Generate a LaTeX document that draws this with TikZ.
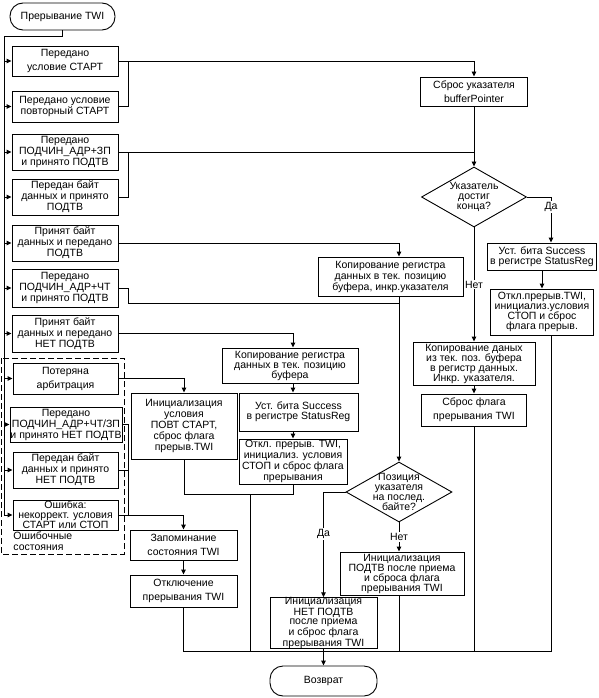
\documentclass[tikz,border=0pt]{standalone}
\usepackage{fontspec}
\setmainfont{Liberation Sans}
\usetikzlibrary{shapes.geometric,arrows.meta}
\tikzset{
  box/.style={draw,align=center,inner sep=0pt,font=\fontsize{10.5}{11}\selectfont},
  loose/.style={font=\fontsize{10.5}{14}\selectfont},
  tight/.style={font=\fontsize{10.5}{10}\selectfont},
  term/.style={box,rounded corners=13pt},
  decision/.style={draw,diamond,aspect=1.75,inner xsep=0pt,inner ysep=-6pt,align=center,font=\fontsize{10.5}{10}\selectfont},
  answer/.style={fill=white,inner sep=1pt,font=\fontsize{10.5}{11}\selectfont}
}
\begin{document}
\begin{tikzpicture}[x=1pt,y=-1pt,line width=0.9pt,>={Triangle[length=5pt,width=4.5pt]}]
  \fill[white] (0,0) rectangle (598,698);
  \useasboundingbox (0,0) rectangle (598,698);

  % entry and status codes
  \node[term,minimum width=105pt,minimum height=27pt] (start) at (62.5,16.5) {Прерывание TWI};
  \node[box,loose,minimum width=106pt,minimum height=30pt] (st) at (65,61) {Передано\\условие СТАРТ};
  \node[box,minimum width=106pt,minimum height=31pt] (rst) at (65,106.5) {Передано условие\\повторный СТАРТ};
  \node[box,minimum width=106pt,minimum height=36pt] (slaw) at (65,152) {Передано\\ПОДЧИН\_АДР+ЗП\\и принято ПОДТВ};
  \node[box,minimum width=106pt,minimum height=36pt] (txack) at (65,197) {Передан байт\\данных и принято\\ПОДТВ};
  \node[box,minimum width=106pt,minimum height=36pt] (rxack) at (65,243) {Принят байт\\данных и передано\\ПОДТВ};
  \node[box,minimum width=106pt,minimum height=38pt] (slar) at (65,288) {Передано\\ПОДЧИН\_АДР+ЧТ\\и принято ПОДТВ};
  \node[box,minimum width=106pt,minimum height=37pt] (rxnack) at (65,333.5) {Принят байт\\данных и передано\\НЕТ ПОДТВ};

  % error group
  \draw[dash pattern=on 6pt off 3pt] (1,358) rectangle (124,554);
  \node[box,loose,minimum width=105pt,minimum height=31pt] (arb) at (65.5,378.5) {Потеряна\\арбитрация};
  \node[box,minimum width=112pt,minimum height=35pt] (slanack) at (66,424.5) {Передано\\ПОДЧИН\_АДР+ЧТ/ЗП\\и принято НЕТ ПОДТВ};
  \node[box,minimum width=105pt,minimum height=36pt] (txnack) at (65.5,470) {Передан байт\\данных и принято\\НЕТ ПОДТВ};
  \node[box,font=\fontsize{10.5}{9.5}\selectfont,minimum width=105pt,minimum height=30pt] (err) at (65.5,515) {Ошибка:\\некоррект. условия\\СТАРТ или СТОП};
  \node[align=left,inner sep=0pt,font=\fontsize{10.5}{11}\selectfont,anchor=west] (grp) at (13,541) {Ошибочные\\ состояния};

  % middle column
  \node[box,minimum width=106pt,minimum height=66pt] (rep) at (184,426) {Инициализация\\условия\\ПОВТ СТАРТ,\\сброс флага\\прерыв.TWI};
  \node[box,loose,minimum width=107pt,minimum height=30pt] (save) at (183.5,545) {Запоминание\\состояния TWI};
  \node[box,loose,minimum width=107pt,minimum height=32pt] (off) at (183.5,591) {Отключение\\прерывания TWI};
  \node[box,tight,minimum width=136pt,minimum height=35pt] (store) at (290,365.5) {Копирование регистра\\данных в тек. позицию\\буфера};
  \node[box,tight,minimum width=119pt,minimum height=38pt] (okrx) at (298.5,412) {Уст. бита Success\\в регистре StatusReg};
  \node[box,minimum width=108pt,minimum height=45pt] (stoprx) at (293,461.5) {Откл. прерыв. TWI,\\инициализ. условия\\СТОП и сброс флага\\прерывания};
  \node[box,minimum width=145pt,minimum height=39pt] (copy) at (390.5,276.5) {Копирование регистра\\данных в тек. позицию\\буфера, инкр.указателя};
  \node[decision,minimum width=106pt,minimum height=60pt] (chklast) at (399,492) {Позиция\\указателя\\на послед.\\байте?};
  \node[box,tight,minimum width=124pt,minimum height=43pt] (ackset) at (402,573.5) {Инициализация\\ПОДТВ после приема\\и сброса флага\\прерывания TWI};
  \node[box,font=\fontsize{10.5}{9.4}\selectfont,minimum width=107pt,minimum height=50pt] (nackset) at (323.5,623) {Инициализация\\НЕТ ПОДТВ\\после приема\\и сброс флага\\прерывания TWI};
  \node[term,minimum width=107pt,minimum height=30pt] (ret) at (323.5,681) {Возврат};

  % right column
  \node[box,loose,minimum width=107pt,minimum height=29pt] (rstptr) at (474,91.5) {Сброс указателя\\bufferPointer};
  \node[decision,minimum width=105pt,minimum height=60pt] (chkend) at (474,197) {Указатель\\достиг\\конца?};
  \node[box,tight,minimum width=109pt,minimum height=27pt] (oktx) at (542,256.5) {Уст. бита Success\\в регистре StatusReg};
  \node[box,tight,minimum width=103pt,minimum height=46pt] (stoptx) at (542,312) {Откл.прерыв.TWI,\\инициализ.условия\\СТОП и сброс\\флага прерыв.};
  \node[box,tight,minimum width=122pt,minimum height=43pt] (load) at (474,363.5) {Копирование даных\\из тек. поз. буфера\\в регистр данных.\\Инкр. указателя.};
  \node[box,loose,minimum width=105pt,minimum height=32pt] (clrint) at (474,410) {Сброс флага\\прерывания TWI};

  % junctions
  \coordinate (bus) at (4,36);
  \coordinate (j) at (128,0);
  \coordinate (jslar) at (128,303);
  \coordinate (jrx) at (250,494);
  \coordinate (rail) at (0,651);
  \coordinate (c2) at (399,0);
  \coordinate (c3) at (293,0);
  \coordinate (c4) at (551,0);

  % dispatch bus
  \draw (start.south) |- (bus) -- (bus |- err.west);
  \foreach \n in {st,rst,slaw,txack,rxack,slar,rxnack,arb,slanack,txnack,err}
    \draw[->] (bus |- \n.west) -- (\n.west);

  % transmitter branch
  \draw[->] (st.east) -| (rstptr.north);
  \draw (rst.east) -| (j |- st.east);
  \draw[->] (rstptr) -- (chkend);
  \draw (slaw.east) -- (slaw.east -| chkend.north);
  \draw (txack.east) -| (j |- slaw.east);
  \draw[->] (chkend.east) -| node[answer,pos=0.61] {Да} (c4 |- oktx.north);
  \draw[->] (chkend) -- node[answer] {Нет} (load);
  \draw[->] (oktx) -- (stoptx);
  \draw[->] (load) -- (clrint);

  % receiver branch
  \draw[->] (rxack.east) -| (c2 |- copy.north);
  \draw[->] (c2 |- copy.south) -- (chklast.north);
  \draw (slar.east) -| (jslar) -- (jslar -| c2);
  \draw[->] (chklast.west) -| node[answer,pos=0.7] {Да} (nackset.north);
  \draw[->] (chklast.south) -- node[answer] {Нет} (c2 |- ackset.north);
  \draw[->] (rxnack.east) -| (c3 |- store.north);
  \draw[->] (c3 |- store.south) -- (c3 |- okrx.north);
  \draw[->] (c3 |- okrx.south) -- (stoprx.north);

  % errors
  \draw[->] (arb.east) -| (rep.north);
  \draw (slanack.east) -| (j |- err.east);
  \draw (txnack.east) -- (j |- txnack.east);
  \draw[->] (err.east) -| (save.north);
  \draw[->] (save) -- (off);

  % exit
  \draw (rep.south) |- (jrx);
  \draw (stoprx.south) |- (jrx) -- (jrx |- rail);
  \draw (off.south) |- (c4 |- rail) -- (c4 |- stoptx.south);
  \draw (clrint.south) -- (clrint.south |- rail);
  \draw (c2 |- ackset.south) -- (c2 |- rail);
  \draw[->] (nackset) -- (ret);
\end{tikzpicture}
\end{document}
